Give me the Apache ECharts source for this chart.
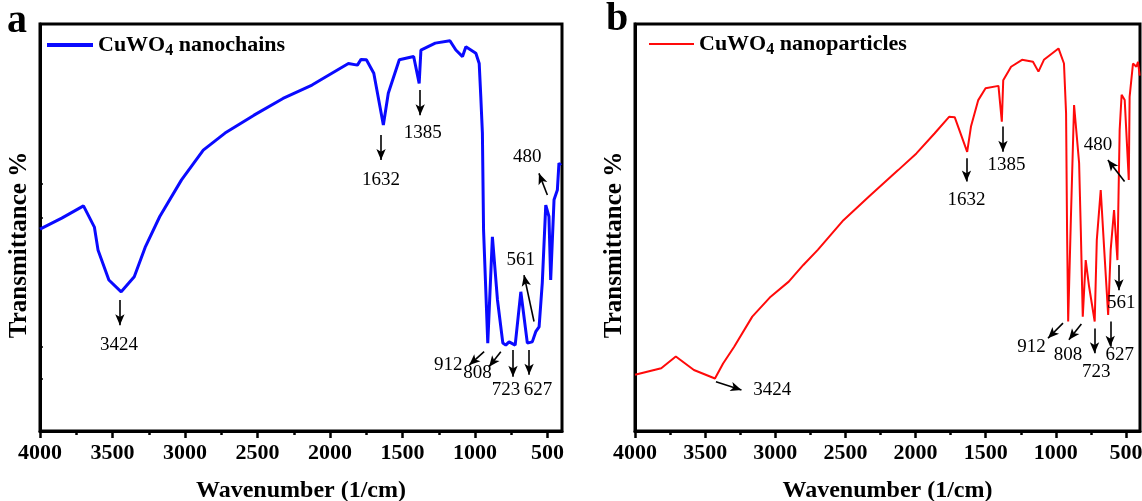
<!DOCTYPE html>
<html>
<head>
<meta charset="utf-8">
<script src="https://cdn.jsdelivr.net/npm/echarts@6/dist/echarts.min.js"></script>
<style>
  html, body { margin: 0; padding: 0; background: #fff; }
  #chart { width: 1142px; height: 501px; }
</style>
</head>
<body>
<div id="chart"></div>
<script>
// FT-IR spectra of CuWO4: (a) nanochains, (b) nanoparticles
const xMajorTicks = [4000, 3500, 3000, 2500, 2000, 1500, 1000, 500];
const xMinorTicks = [3750, 3250, 2750, 2250, 1750, 1250, 750];
const yTicksA = [12.8, 20.6, 52.3, 60.7];

const nameA = 'CuWO4 nanochains';
const nameB = 'CuWO4 nanoparticles';

// panel a: wavenumber (1/cm) and transmittance (relative %)
const wavenumberA = [4000, 3850, 3700, 3625, 3600, 3525, 3440, 3350, 3275, 3174, 3024, 2874, 2724, 2524, 2324, 2124, 2025, 1873, 1811, 1786, 1749, 1698, 1632, 1598, 1522, 1423, 1385, 1373, 1274, 1173, 1132, 1086, 1063, 994, 971, 960, 949, 941, 912, 880, 845, 808, 788, 765, 723, 684, 639, 605, 581, 558, 536, 512, 490, 478, 455, 432, 421, 407];
const transA = [49.6, 52.3, 55.3, 50.1, 44.5, 37.1, 34.2, 37.9, 45.1, 52.7, 61.7, 69.0, 73.2, 77.6, 81.7, 85.0, 87.1, 90.3, 89.9, 91.3, 91.2, 87.9, 75.2, 83.0, 91.2, 92.0, 85.4, 93.6, 95.3, 95.9, 93.6, 92.0, 94.4, 92.8, 90.3, 82.1, 73.2, 49.4, 21.6, 47.7, 32.2, 21.6, 21.1, 21.9, 21.1, 34.2, 21.6, 21.9, 24.4, 25.6, 36.4, 55.5, 52.7, 37.1, 56.8, 59.2, 65.8, 65.3];

// panel b
const wavenumberB = [4000, 3813, 3709, 3580, 3430, 3372, 3293, 3164, 3033, 2904, 2800, 2697, 2514, 2332, 2124, 1994, 1865, 1761, 1721, 1632, 1605, 1553, 1501, 1409, 1385, 1375, 1319, 1241, 1163, 1124, 1085, 981, 942, 927, 920, 912, 893, 870, 834, 822, 808, 787, 763, 723, 708, 680, 655, 627, 609, 585, 561, 545, 531, 509, 480, 474, 450, 426, 414, 402];
const transB = [13.8, 15.4, 18.3, 15.0, 12.9, 16.6, 20.7, 28.1, 33.0, 36.7, 40.8, 44.5, 51.8, 57.6, 64.1, 68.2, 73.1, 77.2, 77.1, 68.6, 74.8, 81.3, 84.2, 84.8, 76.0, 86.2, 89.5, 91.2, 90.7, 88.3, 91.2, 94.0, 90.3, 78.1, 49.4, 26.9, 51.8, 80.1, 65.8, 49.4, 28.1, 42.0, 35.5, 26.9, 46.9, 59.2, 44.5, 28.5, 44.5, 54.3, 42.0, 74.0, 82.6, 81.3, 61.7, 82.1, 90.3, 89.5, 90.7, 87.3];

// peak annotations: [text, labelX, labelY, arrowFromX, arrowFromY, arrowToX, arrowToY]
const peaksA = [
  ['3424', 3455, 21.1, 3449, 32.2, 3449, 26.0],
  ['1632', 1648, 61.7, 1648, 72.7, 1648, 66.6],
  ['1385', 1360, 73.1, 1378, 83.8, 1378, 77.6],
  ['480', 639, 67.4, 501, 58.0, 559, 63.3],
  ['561', 684, 42.0, 593, 26.9, 662, 38.3],
  ['912', 1185, 16.2, 937, 19.5, 1040, 16.2],
  ['808', 983, 14.2, 822, 19.5, 903, 15.8],
  ['723', 786, 10.1, 738, 19.9, 738, 13.3],
  ['627', 565, 10.1, 627, 19.9, 627, 13.8]
];
const peaksB = [
  ['3424', 3021, 10.1, 3423, 12.1, 3241, 10.1],
  ['1632', 1637, 56.8, 1637, 67.0, 1637, 61.3],
  ['1385', 1352, 65.4, 1377, 74.8, 1377, 68.6],
  ['480', 700, 70.3, 510, 61.3, 629, 66.6],
  ['561', 533, 31.4, 550, 40.8, 550, 34.6],
  ['912', 1174, 20.7, 949, 26.5, 1056, 22.8],
  ['808', 914, 18.7, 818, 26.3, 907, 22.4],
  ['723', 711, 14.6, 724, 25.2, 724, 19.1],
  ['627', 545, 18.7, 612, 26.9, 612, 20.7]
];

const SERIF = '"Liberation Serif", "DejaVu Serif", serif';

function pairs(xs, ys) { return xs.map((x, i) => [x, ys[i]]); }

function arrows(peaks) {
  return peaks.map(p => [{ coord: [p[3], p[4]] }, { coord: [p[5], p[6]] }]);
}
function peakLabels(peaks) {
  return peaks.map(p => ({ coord: [p[1], p[2]], value: p[0] }));
}

function xAxes(gridIndex) {
  return [{
    gridIndex, type: 'value', inverse: true, min: 400, max: 4000,
    axisLine: { show: true, onZero: false, lineStyle: { color: '#000', width: 3 } },
    axisTick: { show: true, length: 7, inside: false, customValues: xMajorTicks, lineStyle: { color: '#000', width: 2.5 } },
    axisLabel: { show: true, customValues: xMajorTicks, formatter: v => String(v), margin: 11, color: '#000', fontFamily: SERIF, fontWeight: 'bold', fontSize: 22 },
    splitLine: { show: false },
    name: 'Wavenumber (1/cm)', nameLocation: 'middle', nameGap: 48,
    nameTextStyle: { color: '#000', fontFamily: SERIF, fontWeight: 'bold', fontSize: 24 }
  }, {
    gridIndex, type: 'value', inverse: true, min: 400, max: 4000, position: 'bottom',
    axisLine: { show: false },
    axisTick: { show: true, length: 4, customValues: xMinorTicks, lineStyle: { color: '#000', width: 2.5 } },
    axisLabel: { show: false }, splitLine: { show: false }
  }];
}

function yAxis(gridIndex, ticks) {
  return {
    gridIndex, type: 'value', min: 0, max: 100,
    axisLine: { show: true, lineStyle: { color: '#000', width: 3 } },
    axisTick: ticks ? { show: true, inside: true, length: 3, customValues: ticks, lineStyle: { color: '#000', width: 1.5 } } : { show: false },
    axisLabel: { show: false }, splitLine: { show: false },
    name: 'Transmittance %', nameLocation: 'middle', nameGap: 8,
    nameTextStyle: { color: '#000', fontFamily: SERIF, fontWeight: 'bold', fontSize: 25, padding: [0, 35, 0, 0] }
  };
}

function spectrum(name, data, color, width, xIdx, yIdx, peaks) {
  return {
    name, type: 'line', data, xAxisIndex: xIdx, yAxisIndex: yIdx,
    symbol: 'none', smooth: false, lineStyle: { color, width }, itemStyle: { color },
    markLine: {
      silent: true, symbol: ['none', 'arrow'], symbolSize: [7, 11], animation: false,
      lineStyle: { color: '#000', width: 1.6, type: 'solid' }, label: { show: false },
      data: arrows(peaks)
    },
    markPoint: {
      silent: true, symbol: 'circle', symbolSize: 0, animation: false,
      label: { show: true, position: 'inside', formatter: p => p.value, color: '#000', fontFamily: SERIF, fontSize: 19 },
      data: peakLabels(peaks)
    }
  };
}

const legendRich = {
  a: { fontFamily: SERIF, fontWeight: 'bold', fontSize: 22, color: '#000', lineHeight: 28, verticalAlign: 'middle' },
  s: { fontFamily: SERIF, fontWeight: 'bold', fontSize: 16, color: '#000', lineHeight: 16, verticalAlign: 'bottom' }
};
function legendText(name) { return '{a|CuWO}{s|4}{a|' + name.replace('CuWO4', '') + '}'; }

const chart = echarts.init(document.getElementById('chart'), null, { renderer: 'canvas' });
chart.setOption({
  animation: false,
  backgroundColor: '#fff',
  title: [
    { text: 'a', left: 7, top: 2, padding: 0, textStyle: { fontFamily: SERIF, fontWeight: 'bold', fontSize: 40, color: '#000' } },
    { text: 'b', left: 606, top: 0, padding: 0, textStyle: { fontFamily: SERIF, fontWeight: 'bold', fontSize: 40, color: '#000' } }
  ],
  grid: [
    { left: 40, top: 24, width: 522, bottom: 70, show: true, borderColor: '#000', borderWidth: 3, containLabel: false, outerBoundsMode: 'none' },
    { left: 635, top: 24, width: 505, bottom: 70, show: true, borderColor: '#000', borderWidth: 3, containLabel: false, outerBoundsMode: 'none' }
  ],
  legend: [
    { data: [{ name: nameA, icon: 'rect' }], left: 47, top: 34, padding: 0, itemWidth: 46, itemHeight: 4, formatter: legendText, textStyle: { rich: legendRich } },
    { data: [{ name: nameB, icon: 'rect' }], left: 649, top: 33, padding: 0, itemWidth: 45, itemHeight: 2, formatter: legendText, textStyle: { rich: legendRich } }
  ],
  xAxis: [...xAxes(0), ...xAxes(1)],
  yAxis: [yAxis(0, yTicksA), yAxis(1, null)],
  series: [
    spectrum(nameA, pairs(wavenumberA, transA), '#0a0aff', 3, 0, 0, peaksA),
    spectrum(nameB, pairs(wavenumberB, transB), '#ff0a0a', 2, 2, 1, peaksB)
  ]
});
</script>
</body>
</html>
